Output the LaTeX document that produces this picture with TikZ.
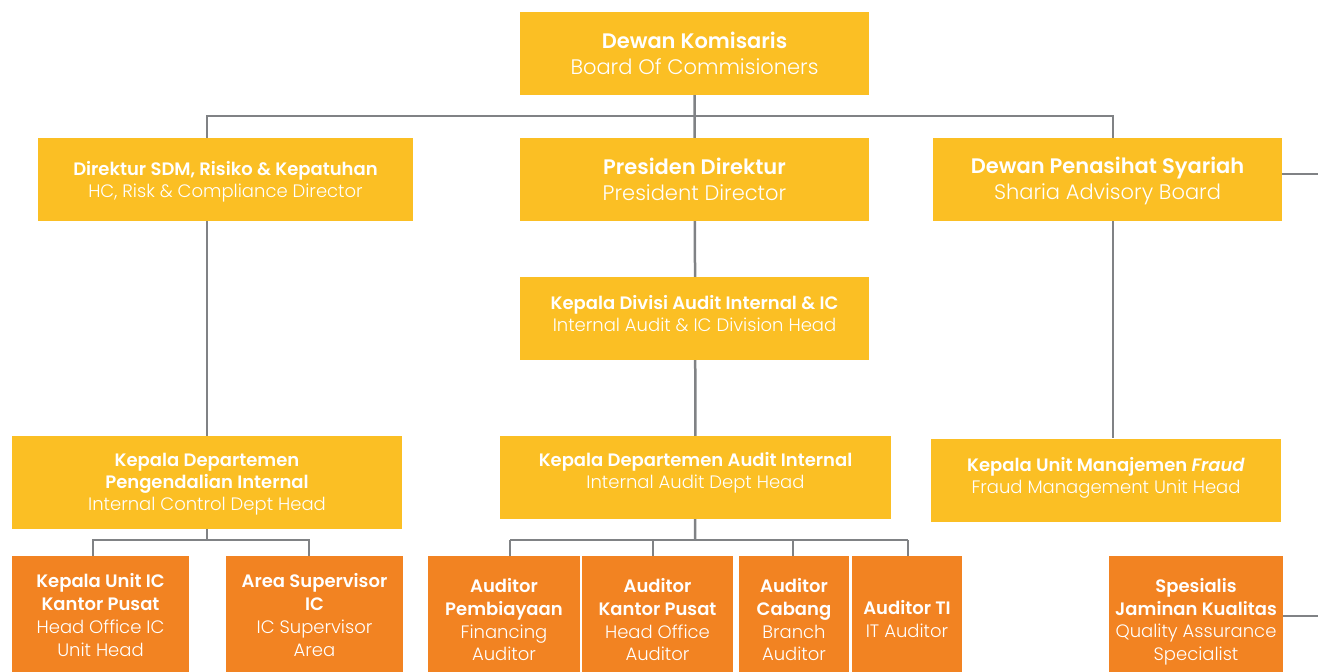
\documentclass[tikz,border=0pt]{standalone}
\usepackage{fontspec}
\usepackage{xcolor}
\usepackage{tikz}
\usetikzlibrary{backgrounds}
\setmainfont{Poppins}[BoldFont={Poppins SemiBold},BoldItalicFont={Poppins SemiBold Italic}]
\newfontfamily\thin{Poppins Light}
\definecolor{boxyellow}{HTML}{FBBF24}
\definecolor{boxorange}{HTML}{F28322}
\definecolor{linegray}{HTML}{808285}

\begin{document}
\begin{tikzpicture}[
			x=1pt, y=-1pt,
			box/.style={fill=boxyellow, text=white, align=center, inner sep=0pt,
				minimum width=349pt, minimum height=83pt, font=\fontsize{18}{22}\selectfont},
			bigbox/.style={box, font=\fontsize{21}{26}\selectfont},
			staff/.style={box, fill=boxorange, minimum height=118pt, font=\fontsize{18}{22.8}\selectfont},
			lift/.style={text depth=#1},
			sink/.style={text height=#1},
			link/.style={draw=linegray, line width=2.5pt}]
			\useasboundingbox (0,0) rectangle (1318,672);
			\clip (0,0) rectangle (1318,672);
			% top levels
			\node[bigbox] (komisaris) at (694.5,53.5) {\textbf{Dewan Komisaris}\\{\thin Board Of Commisioners}};
			\node[box, minimum width=375pt, sink=41pt] (sdm) at (225.5,179.5) {\textbf{Direktur SDM, Risiko \& Kepatuhan}\\{\thin HC, Risk \& Compliance Director}};
			\node[bigbox] (presiden) at (694.5,179.5) {\textbf{Presiden Direktur}\\{\thin President Director}};
			\node[bigbox, sink=45pt] (syariah) at (1107.5,179.5) {\textbf{Dewan Penasihat Syariah}\\{\thin Sharia Advisory Board}};
			\node[box, lift=10pt] (divisi) at (694.5,318.5) {\textbf{Kepala Divisi Audit Internal \& IC}\\{\thin Internal Audit \& IC Division Head}};
			% department heads
			\node[box, minimum width=390pt, minimum height=93pt, sink=61pt] (pengendalian) at (207,482.5) {\textbf{Kepala Departemen}\\\textbf{Pengendalian Internal}\\{\thin Internal Control Dept Head}};
			\node[box, minimum width=391pt, lift=14pt] (auditdept) at (695.5,477.5) {\textbf{Kepala Departemen Audit Internal}\\{\thin Internal Audit Dept Head}};
			\node[box, minimum width=350pt, lift=10pt] (fraud) at (1106,480) {\textbf{Kepala Unit Manajemen \textit{Fraud}}\\{\thin Fraud Management Unit Head}};
			% staff
			\node[staff, minimum width=177pt] (icpusat) at (100.5,615) {\textbf{Kepala Unit IC}\\\textbf{Kantor Pusat}\\{\thin Head Office IC}\\{\thin Unit Head}};
			\node[staff, minimum width=177pt] (icarea) at (314.5,615) {\textbf{Area Supervisor}\\\textbf{IC}\\{\thin IC Supervisor}\\{\thin Area}};
			\node[staff, minimum width=152pt, sink=92pt] (pembiayaan) at (504,615) {\textbf{Auditor}\\\textbf{Pembiayaan}\\{\thin Financing}\\{\thin Auditor}};
			\node[staff, minimum width=151pt, sink=92pt] (pusat) at (657.5,615) {\textbf{Auditor}\\\textbf{Kantor Pusat}\\{\thin Head Office}\\{\thin Auditor}};
			\node[staff, minimum width=110pt, sink=92pt] (cabang) at (794,615) {\textbf{Auditor}\\\textbf{Cabang}\\{\thin Branch}\\{\thin Auditor}};
			\node[staff, minimum width=110pt, sink=45pt] (ti) at (907,615) {\textbf{Auditor TI}\\{\thin IT Auditor}};
			\node[staff, minimum width=174pt, sink=96pt] (qa) at (1196,615) {\textbf{Spesialis}\\\textbf{Jaminan Kualitas}\\{\thin Quality Assurance}\\{\thin Specialist}};
			\coordinate (topbus) at (695,116);
			\coordinate (syariahdrop) at (1113,116);
			\coordinate (icbus) at (207,540);
			\coordinate (auditbus) at (695,540);
			\coordinate (syariahout) at (1318,174);
			\coordinate (qaout) at (1318,616);
			\begin{scope}[on background layer]
				\draw[link] (komisaris) -- (auditdept);
				\draw[link] (pengendalian.north) -- (pengendalian.north |- topbus) -- (syariahdrop) -- (syariahdrop |- fraud.north);
				\draw[link] (syariah.east |- syariahout) -- (syariahout);
				\draw[link] (qa.east |- qaout) -- (qaout);
				% internal control staff
				\draw[link] (pengendalian) -- (icbus);
				\draw[link] (93,540 |- icpusat.north) -- (93,540) -- (309,540) -- (309,540 |- icarea.north);
				% auditors
				\draw[link] (auditdept) -- (auditbus);
				\draw[link] (510,540) -- (908,540);
				\foreach \x/\n in {510/pembiayaan, 653/pusat, 793/cabang, 908/ti}
					\draw[link] (\x,540) -- (\x,540 |- \n.north);
			\end{scope}
		\end{tikzpicture}
\end{document}
